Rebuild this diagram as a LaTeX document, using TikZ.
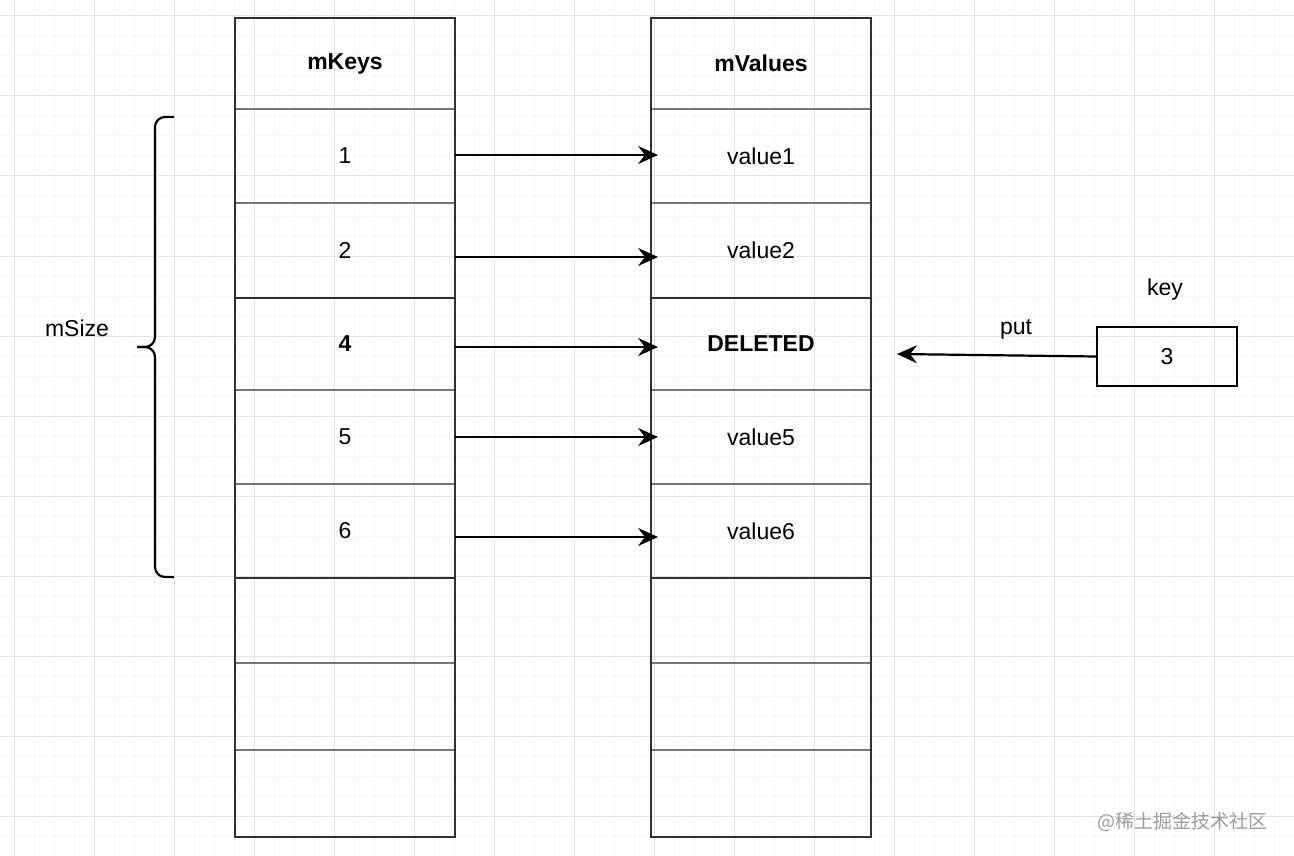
\documentclass[tikz,border=0pt]{standalone}
\usepackage{fontspec}
\setmainfont{Liberation Sans}
\newfontfamily\cjkfont{Noto Sans CJK SC}
\usetikzlibrary{positioning,arrows.meta}

\definecolor{gridmajor}{HTML}{E4E4E4}
\definecolor{gridminor}{HTML}{F7F7F7}
\definecolor{boxline}{HTML}{303030}
\definecolor{sepline}{HTML}{767676}
\definecolor{marktext}{HTML}{9C9C9C}

\tikzset{
  cell/.style={draw=sepline, line width=1.8pt, minimum width=220pt,
    inner sep=0pt, outer sep=0pt},
  frame/.style={draw=boxline, line width=2.4pt},
  link/.style={-{Stealth[length=20pt 0, width=18pt 0, inset=7pt 0]}, line width=2.2pt},
}

\begin{document}
\begin{tikzpicture}[x=1pt, y=-1pt,
    every node/.append style={font=\fontsize{23}{27}\selectfont}]
  \clip (0,0) rectangle (1294,856);
  \fill[white] (0,0) rectangle (1294,856);

  % background grid
  \foreach \gx in {14,34,...,1294} \draw[gridminor, line width=1pt] (\gx,0) -- (\gx,856);
  \foreach \gy in {16,36,...,856} \draw[gridminor, line width=1pt] (0,\gy) -- (1294,\gy);
  \foreach \gx in {14,94,...,1294} \draw[gridmajor, line width=1pt] (\gx,0) -- (\gx,856);
  \foreach \gy in {16,96,...,856} \draw[gridmajor, line width=1pt] (0,\gy) -- (1294,\gy);

  % the two arrays
  \node[cell, minimum height=91pt] (k0) at (345,63.5) {\bfseries mKeys};
  \node[cell, minimum height=91pt, right=196pt of k0] (v0) {\bfseries mValues};
  \foreach \i/\h/\kt/\vt in {1/94/1/value1, 2/95/2/value2,
      3/92/{\bfseries 4}/{\bfseries DELETED}, 4/94/5/value5, 5/94/6/value6,
      6/85//, 7/87//, 8/87//} {
    \pgfmathtruncatemacro\p{\i-1}
    \node[cell, minimum height=\h pt, below=0pt of k\p] (k\i) {\kt};
    \node[cell, minimum height=\h pt, below=0pt of v\p] (v\i) {\vt};
  }
  \foreach \c in {k,v} {
    \draw[frame] (\c0.north west) rectangle (\c8.south east);
    \draw[frame] (\c3.north west) -- (\c3.north east);
    \draw[frame] (\c6.north west) -- (\c6.north east);
  }

  % key -> value links
  \foreach \i/\dy in {1/-1, 2/6.5, 3/3, 4/0, 5/6}
    \draw[link] ([yshift=-\dy pt]k\i.east) -- ([xshift=7pt, yshift=-\dy pt]v\i.west);

  % new key
  \node[draw, line width=2.2pt, minimum width=140pt, minimum height=59pt] (key) at (1167,356.5) {3};
  \node (keylabel) at (1165,290) {key};
  \coordinate (putend) at (897,354);
  \draw[link] (key.west) -- (putend);
  \node (putlabel) at (1016,329) {put};

  % size brace
  \draw[line width=2.2pt, rounded corners=10pt] (174,117) -- (155,117) -- (155,347) -- (137,347);
  \draw[line width=2.2pt, rounded corners=10pt] (137,347) -- (155,347) -- (155,577) -- (174,577);
  \node (size) at (77,328) {mSize};

  \node[font=\cjkfont\fontsize{19}{22}\selectfont, text=marktext, anchor=east] (mark) at (1271,822) {@稀土掘金技术社区};
\end{tikzpicture}
\end{document}
